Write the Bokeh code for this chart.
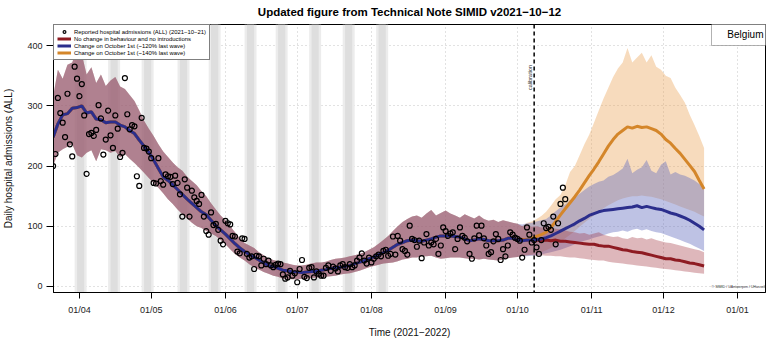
import pandas as pd
from math import pi
from bokeh.plotting import figure
from bokeh.models import (FixedTicker, DatetimeTickFormatter, Range1d, Span, Label,
                          Legend, LegendItem, BoxAnnotation)
from bokeh.embed import file_html
from bokeh.resources import INLINE

FONT = "Liberation Sans"

title_text = "Updated figure from Technical Note SIMID v2021\u221210\u221212"
region_text = "Belgium"
credit_text = "\u00a9 SIMID / UAntwerpen / UHasselt"
x_label = "Time (2021\u22122022)"
y_label = "Daily hospital admissions (ALL)"
calib_text = "calibration"
calibration_date = "2021-10-08"

legend_labels = [
    "Reported hospital admissions (ALL) (2021\u221210\u221221)",
    "No change in behaviour and no introductions",
    "Change on October 1st (~120% last wave)",
    "Change on October 1st (~140% last wave)",
]

tick_dates = ["2021-04-01", "2021-05-01", "2021-06-01", "2021-07-01", "2021-08-01",
              "2021-09-01", "2021-10-01", "2021-11-01", "2021-12-01", "2022-01-01"]
tick_labels = ["01/04", "01/05", "01/06", "01/07", "01/08",
               "01/09", "01/10", "01/11", "01/12", "01/01"]
y_ticks = [0, 100, 200, 300, 400]

band_start = ["2021-03-30", "2021-04-13", "2021-04-27", "2021-05-12", "2021-05-25",
              "2021-06-09", "2021-06-22", "2021-07-06", "2021-07-20", "2021-08-03"]
band_end = ["2021-04-04", "2021-04-18", "2021-05-02", "2021-05-17", "2021-05-30",
            "2021-06-14", "2021-06-27", "2021-07-11", "2021-07-25", "2021-08-08"]

# reported admissions, daily from 2021-03-21
observed = [
    200, 220, 313, 288, 272, 248, 320, 236, 216, 365,
    345, 316, 336, 284, 187, 253, 255, 250, 260, 301,
    279, 219, 244, 292, 251, 230, 284, 262, 215, 222,
    346, 286, 261, 268, 266, 183, 167, 280, 230, 229,
    224, 213, 172, 171, 213, 175, 169, 186, 183, 182,
    170, 184, 172, 153, 116, 178, 164, 116, 159, 148,
    142, 137, 152, 116, 92, 86, 123, 102, 104, 94,
    76, 70, 109, 105, 103, 84, 83, 58, 55, 80,
    79, 54, 48, 50, 29, 51, 50, 35, 46, 37,
    43, 35, 32, 36, 38, 37, 20, 13, 15, 26,
    18, 22, 7, 29, 44, 16, 14, 31, 32, 15,
    25, 21, 18, 18, 31, 35, 26, 33, 30, 25,
    35, 37, 32, 31, 37, 32, 35, 43, 48, 55,
    43, 38, 48, 40, 46, 50, 53, 50, 59, 61,
    51, 54, 83, 53, 84, 76, 62, 59, 53, 101,
    79, 77, 66, 76, 47, 73, 87, 68, 73, 70,
    79, 54, 68, 98, 92, 84, 88, 90, 62, 79,
    98, 84, 81, 75, 54, 46, 80, 101, 85, 101,
    80, 68, 54, 57, 75, 87, 79, 44, 62, 50,
    68, 90, 86, 81, 79, 76, 48, 61, 98, 86,
    73, 77, 65, 54, 77, 105, 97, 99, 94, 116,
    70, 105, 137, 164, 145,
]

# common model fit, every 2 days from 2021-03-21 to 2021-10-01
shared_med = [
    248, 270, 285, 287, 296, 297, 300, 288, 290, 278,
    277, 272, 273, 273, 268, 265, 259, 254, 243, 233,
    223, 210, 196, 182, 176, 169, 161, 153, 145, 138,
    131, 124, 119, 110, 101, 94, 87, 79, 71, 64,
    58, 53, 49, 44, 39, 35, 33, 30, 27, 26,
    24, 24, 23, 24, 25, 25, 27, 28, 30, 31,
    32, 33, 35, 38, 40, 43, 46, 49, 53, 56,
    60, 65, 70, 73, 76, 77, 76, 75, 77, 79,
    82, 84, 84, 84, 83, 82, 79, 76, 77, 79,
    78, 76, 76, 76, 77, 80, 80, 77,
]
shared_hi = [
    315, 360, 345, 368, 372, 395, 385, 352, 364, 338,
    352, 333, 342, 348, 332, 328, 318, 308, 292, 275,
    262, 250, 236, 224, 215, 206, 198, 192, 182, 175,
    168, 158, 150, 138, 128, 118, 110, 100, 90, 80,
    72, 68, 64, 57, 52, 47, 44, 42, 40, 38,
    36, 35, 35, 36, 38, 40, 40, 41, 44, 46,
    47, 48, 50, 52, 54, 57, 61, 65, 71, 77,
    84, 92, 100, 107, 112, 116, 118, 114, 121, 127,
    118, 122, 126, 121, 118, 114, 120, 116, 113, 118,
    112, 109, 111, 107, 110, 108, 106, 104,
]
shared_lo = [
    200, 222, 228, 232, 236, 218, 214, 222, 226, 208,
    228, 226, 222, 225, 214, 220, 212, 205, 197, 189,
    180, 172, 164, 155, 145, 137, 128, 120, 113, 106,
    100, 97, 92, 88, 84, 77, 70, 62, 54, 48,
    43, 37, 32, 28, 24, 21, 18, 16, 13, 13,
    12, 12, 13, 13, 14, 15, 15, 16, 17, 18,
    20, 21, 22, 24, 26, 29, 32, 34, 36, 38,
    39, 40, 42, 45, 46, 48, 48, 50, 50, 51,
    48, 46, 47, 48, 48, 48, 47, 46, 46, 45,
    46, 45, 44, 43, 45, 47, 48, 49,
]

# scenarios, every 2 days from 2021-10-01
red_med = [77, 78, 77, 78, 77, 76, 77, 76, 77, 75, 75, 74, 73, 72, 71, 70, 70, 68, 67, 67,
           65, 63, 61, 60, 58, 57, 56, 54, 52, 50, 48, 46, 46, 44, 43, 41, 39, 38, 36, 34]
red_hi = [104, 100, 102, 99, 100, 98, 99, 97, 96, 95, 93, 91, 90, 88, 89, 86, 88, 90, 86, 84,
          82, 83, 80, 79, 82, 80, 81, 78, 80, 77, 75, 73, 72, 70, 68, 66, 64, 62, 60, 57]
red_lo = [49, 51, 52, 52, 51, 52, 51, 51, 50, 50, 49, 48, 48, 47, 46, 45, 44, 43, 43, 41,
          40, 39, 38, 37, 36, 35, 34, 33, 32, 31, 30, 29, 28, 27, 26, 25, 24, 23, 22, 21]

blue_med = [77, 76, 77, 77, 78, 79, 81, 84, 88, 92, 96, 100, 104, 109, 113, 118, 121, 124, 126, 127,
            128, 129, 130, 131, 132, 134, 131, 133, 131, 129, 128, 125, 122, 120, 117, 114, 110, 105, 100, 94]
blue_hi = [104, 103, 105, 106, 108, 110, 112, 118, 125, 131, 136, 143, 148, 154, 160, 166, 170, 174, 176, 182,
           185, 190, 196, 212, 188, 194, 198, 210, 192, 188, 202, 208, 186, 190, 186, 184, 180, 176, 170, 165]
blue_lo = [49, 50, 50, 51, 52, 53, 55, 57, 59, 61, 64, 67, 70, 73, 76, 78, 81, 83, 85, 88,
           90, 91, 93, 91, 94, 96, 93, 95, 92, 90, 89, 86, 83, 80, 77, 74, 71, 67, 63, 59]

orange_med = [77, 77, 78, 80, 83, 86, 90, 98, 108, 119, 129, 139, 149, 160, 172, 184, 195, 207, 220, 233,
              244, 253, 259, 265, 263, 266, 264, 265, 262, 259, 253, 244, 238, 229, 221, 211, 201, 191, 176, 162]
orange_hi = [104, 100, 106, 108, 112, 117, 124, 134, 145, 152, 168, 190, 200, 218, 236, 252, 272, 292, 312, 330,
             348, 362, 372, 396, 372, 380, 388, 372, 384, 365, 360, 350, 346, 330, 318, 305, 285, 268, 250, 230]
orange_lo = [49, 50, 51, 53, 55, 57, 60, 64, 69, 74, 80, 86, 92, 99, 106, 112, 118, 124, 130, 135,
             139, 143, 146, 148, 150, 150, 151, 150, 149, 147, 145, 142, 139, 136, 133, 130, 127, 124, 120, 116]

# ---------------------------------------------------------------------------
def ms(s):
    return pd.Timestamp(s).value // 10**6

obs_dates = pd.date_range("2021-03-21", periods=len(observed), freq="D")
shared_dates = pd.date_range("2021-03-21", periods=len(shared_med), freq="2D")
scen_dates = pd.date_range("2021-10-01", periods=len(red_med), freq="2D")
full_dates = list(shared_dates[:-1]) + list(scen_dates)

def full(shared, scen):
    return list(shared[:-1]) + list(scen)

RED, BLUE, ORANGE = "#8e1b22", "#2b2e8c", "#d4862a"
RED_F, BLUE_F, ORANGE_F = "#a0323c", "#646ebe", "#eba55a"

p = figure(width=770, height=342, x_axis_type="datetime",
           x_range=Range1d(pd.Timestamp("2021-03-21 04:00"), pd.Timestamp("2022-01-12 16:00")),
           y_range=Range1d(-10, 435),
           output_backend="svg", toolbar_location=None,
           min_border_left=51, min_border_right=5, min_border_top=23, min_border_bottom=50)

p.background_fill_color = "white"
p.border_fill_color = "white"
p.outline_line_color = "black"
p.outline_line_width = 1

p.title.text = title_text
p.title.align = "center"
p.title.vertical_align = "top"
p.title.text_font = FONT
p.title.text_font_size = "11.5px"
p.title.text_font_style = "bold"
p.title.text_color = "black"
p.title.standoff = 10

# axes
p.xaxis.ticker = FixedTicker(ticks=[ms(d) for d in tick_dates])
p.xaxis.formatter = DatetimeTickFormatter(days="%d/%m", months="%d/%m", years="%d/%m",
                                          hours="%d/%m", minutes="%d/%m", seconds="%d/%m",
                                          milliseconds="%d/%m", minsec="%d/%m", hourmin="%d/%m")
p.xaxis.major_label_overrides = {ms(d): lab for d, lab in zip(tick_dates, tick_labels)}
p.yaxis.ticker = FixedTicker(ticks=y_ticks)
p.xaxis.axis_label = x_label
p.yaxis.axis_label = y_label
for ax in (p.xaxis, p.yaxis):
    ax.axis_label_text_font = FONT
    ax.axis_label_text_font_size = "10px"
    ax.axis_label_text_font_style = "normal"
    ax.axis_label_text_color = "#111111"
    ax.major_label_text_font = FONT
    ax.major_label_text_font_size = "9px"
    ax.major_label_text_color = "#222222"
    ax.minor_tick_line_color = None
    ax.major_tick_in = 0
    ax.axis_line_color = "black"
    ax.major_tick_line_color = "black"
p.xaxis.major_tick_out = 6
p.xaxis.major_label_standoff = 6
p.xaxis.axis_label_standoff = 9
p.yaxis.major_tick_out = 7
p.yaxis.major_label_standoff = 4
p.yaxis.axis_label_standoff = 10

for g in (p.xgrid, p.ygrid):
    g.grid_line_color = "#c4c4c4"
    g.grid_line_dash = "1 3"
    g.grid_line_width = 1

# grey bands
bs = pd.to_datetime(band_start)
be = pd.to_datetime(band_end)
p.quad(left=bs, right=be, bottom=-10, top=435, fill_color="#ececec", line_color=None)
p.quad(left=bs + pd.Timedelta(days=1), right=be - pd.Timedelta(days=1), bottom=-10, top=435,
       fill_color="#dedede", line_color=None)

# ribbons
p.varea(x=full_dates, y1=full(shared_lo, orange_lo), y2=full(shared_hi, orange_hi),
        fill_color=ORANGE_F, fill_alpha=0.4)
p.varea(x=full_dates, y1=full(shared_lo, blue_lo), y2=full(shared_hi, blue_hi),
        fill_color=BLUE_F, fill_alpha=0.42)
p.varea(x=full_dates, y1=full(shared_lo, red_lo), y2=full(shared_hi, red_hi),
        fill_color=RED_F, fill_alpha=0.35)

# lines
r_red = p.line(full_dates, full(shared_med, red_med), line_color=RED, line_width=3)
r_orange = p.line(full_dates, full(shared_med, orange_med), line_color=ORANGE, line_width=3)
r_blue = p.line(full_dates, full(shared_med, blue_med), line_color=BLUE, line_width=3)

# observations
r_obs = p.scatter(obs_dates, observed, marker="circle", size=5, fill_color=None,
                  line_color="black", line_width=1.2)

# calibration line
cal = ms(calibration_date)
p.add_layout(Span(location=cal, dimension="height", line_color="black",
                  line_dash="4 3", line_width=1.5))
p.add_layout(Label(x=cal, y=347, text=calib_text, angle=pi / 2, x_offset=-4,
                   text_font=FONT, text_font_size="5.5px", text_align="center",
                   text_baseline="middle", text_color="#222222"))

# region box
p.add_layout(BoxAnnotation(left=658, right=714, bottom=247, top=269,
                           left_units="screen", right_units="screen",
                           bottom_units="screen", top_units="screen",
                           fill_color="white", fill_alpha=1, line_color="black", line_width=1))
p.add_layout(Label(x=710, y=258, x_units="screen", y_units="screen", text=region_text,
                   text_font=FONT, text_font_size="10px", text_align="right",
                   text_baseline="middle", text_color="black"))

# credit
p.add_layout(Label(x=712, y=6, x_units="screen", y_units="screen", text=credit_text,
                   text_font=FONT, text_font_size="3.6px", text_align="right",
                   text_baseline="middle", text_color="#333333"))

legend = Legend(items=[LegendItem(label=legend_labels[0], renderers=[r_obs]),
                       LegendItem(label=legend_labels[1], renderers=[r_red]),
                       LegendItem(label=legend_labels[2], renderers=[r_blue]),
                       LegendItem(label=legend_labels[3], renderers=[r_orange])],
                location="top_left")
legend.border_line_color = "black"
legend.border_line_width = 1
legend.background_fill_alpha = 1
legend.label_text_font = FONT
legend.label_text_font_size = "5.9px"
legend.label_text_color = "black"
legend.glyph_width = 14
legend.glyph_height = 7
legend.label_height = 7
legend.label_standoff = 3
legend.spacing = 0
legend.padding = 3
legend.margin = 0
p.add_layout(legend)

open("out.html", "w").write(file_html(p, INLINE))
